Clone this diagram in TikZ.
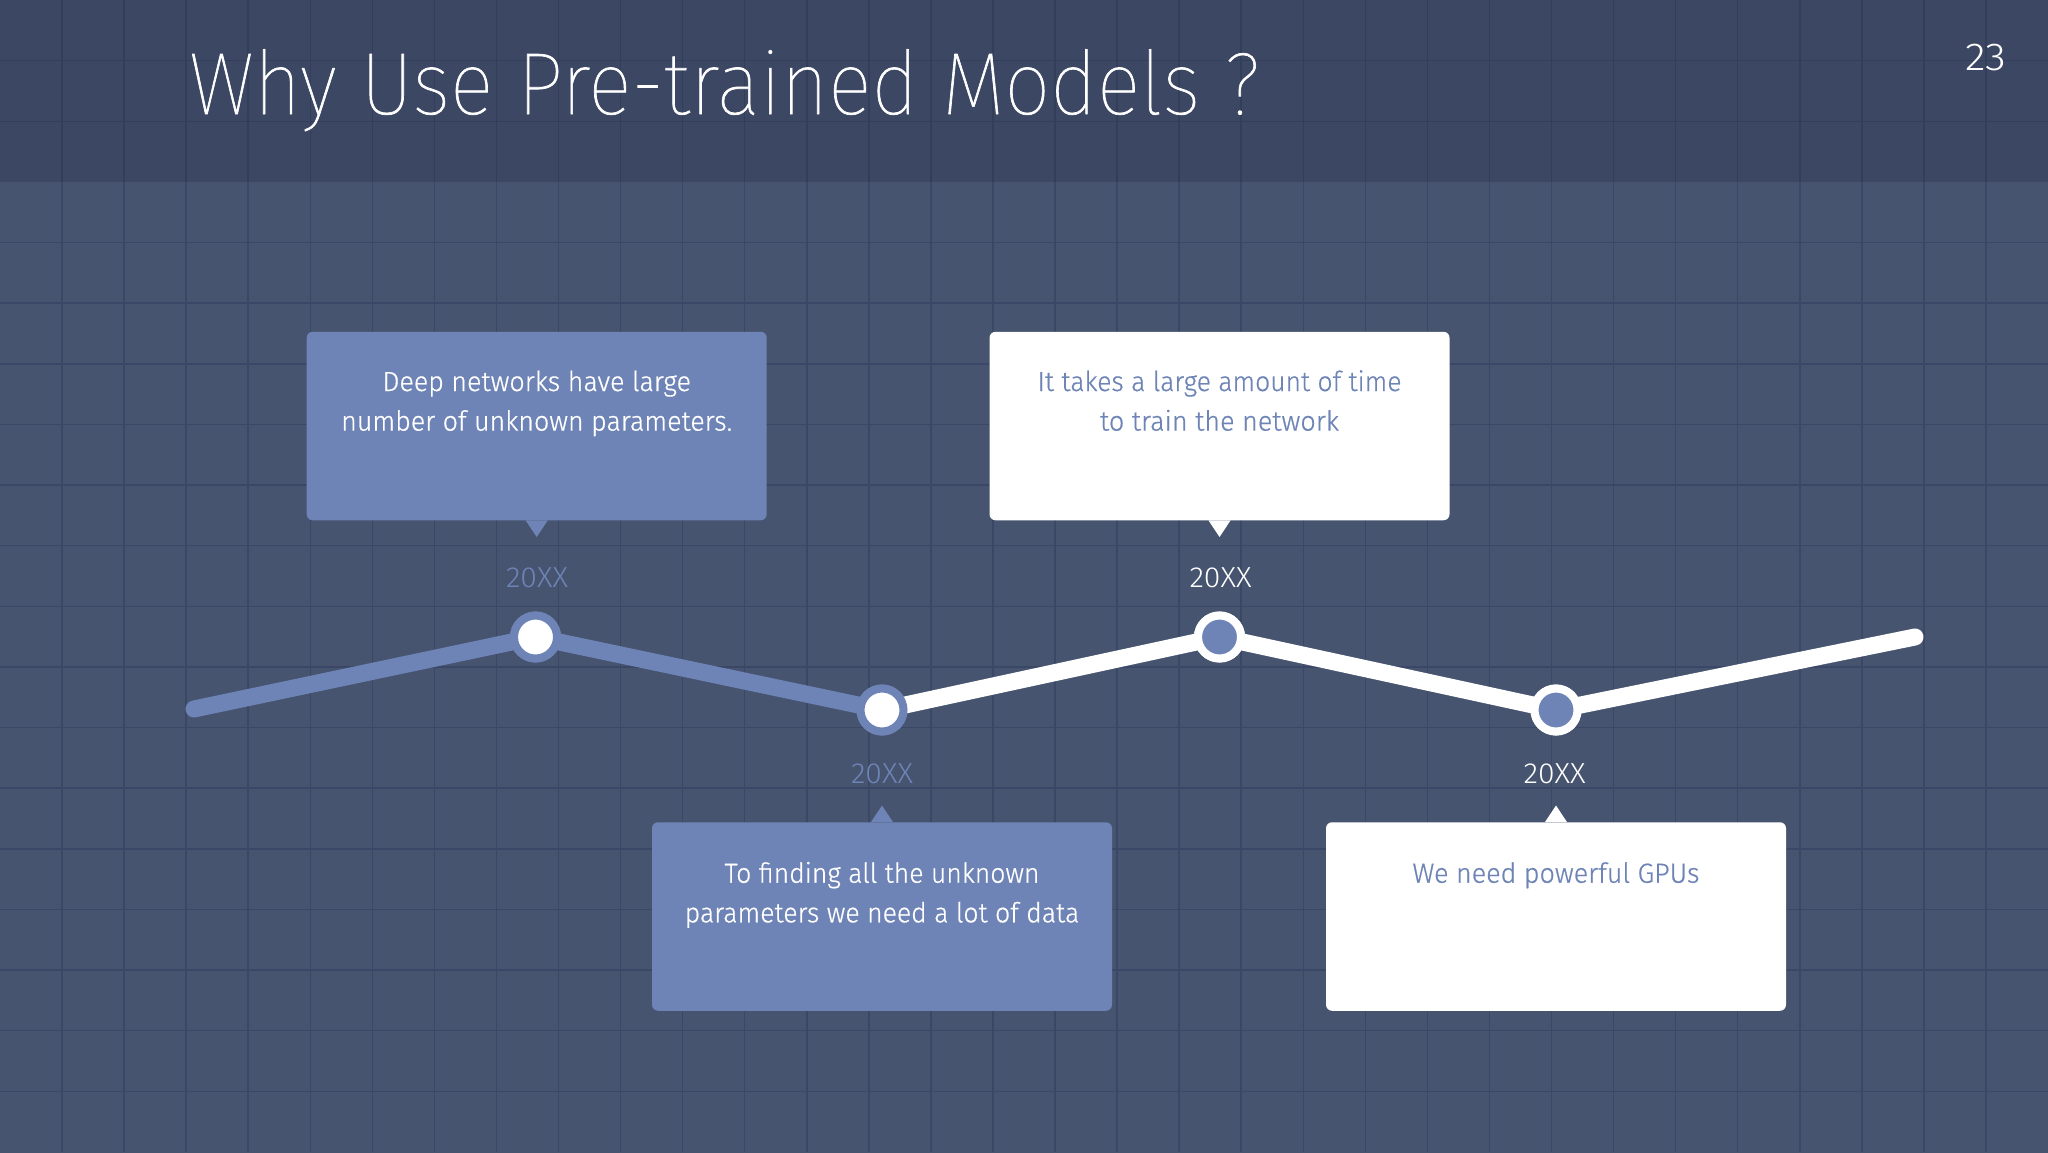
\documentclass[tikz,border=0pt]{standalone}
\usepackage{graphicx}
\usepackage{fontspec}
\setmainfont{Fira Sans Light}[RawFeature={embolden=0.6}]
\newfontfamily\titlefont{Fira Sans Thin}[RawFeature={embolden=0.8}]
\newfontfamily\yearfont{Fira Sans Light}
\definecolor{headbg}{HTML}{3C4763}
\definecolor{bodybg}{HTML}{46546F}
\definecolor{gridbody}{HTML}{3A4767}
\definecolor{gridhead}{HTML}{323E5A}
\definecolor{boxblue}{HTML}{6E84B6}
\newcommand{\fitw}[2]{\resizebox{#1pt}{\height}{#2}}
\tikzset{
  box/.style={rectangle,rounded corners=6pt,minimum width=460pt,minimum height=188.5pt,inner sep=0pt,draw=none},
  bluebox/.style={box,fill=boxblue},
  whitebox/.style={box,fill=white},
  label/.style={inner sep=0pt,align=center,anchor=base,font=\fontsize{27.6}{39.6}\selectfont},
  year/.style={inner sep=0pt,anchor=base,font=\yearfont\fontsize{29}{34}\selectfont},
  dotblue/.style={circle,inner sep=0pt,minimum size=43pt,line width=8pt,draw=boxblue,fill=white},
  dotwhite/.style={circle,inner sep=0pt,minimum size=43pt,line width=8pt,draw=white,fill=boxblue},
  trendblue/.style={draw=boxblue,line width=17pt,line cap=round,line join=round},
  trendwhite/.style={draw=white,line width=17pt,line cap=round,line join=round},
}
\begin{document}
\begin{tikzpicture}[x=1pt,y=-1pt]
\useasboundingbox (0,0) rectangle (2048,1152);
\begin{scope}
\clip (0,0) rectangle (2048,1152);
\fill[bodybg] (-5,-5) rectangle (2053,1157);
\fill[headbg] (-5,-5) rectangle (2053,182);
\foreach \i in {1,...,32} {
  \draw[gridhead,line width=1.5pt] ({62.06*\i},0) -- ({62.06*\i},182);
  \draw[gridbody,line width=1.5pt] ({62.06*\i},182) -- ({62.06*\i},1152);
}
\foreach \j in {1,2} \draw[gridhead,line width=1.5pt] (0,{60.63*\j}) -- (2048,{60.63*\j});
\foreach \j in {4,...,18} \draw[gridbody,line width=1.5pt] (0,{60.63*\j}) -- (2048,{60.63*\j});
\end{scope}

\node[anchor=base west,inner sep=0pt,text=white,font=\titlefont\fontsize{88}{100}\selectfont] (title) at (189,114) {\fitw{1071}{Why Use Pre-trained Models ?}};
\node[anchor=base west,inner sep=0pt,text=white,font=\yearfont\fontsize{39}{44}\selectfont] (page) at (1965,70) {\fitw{41}{23}};

\coordinate (start) at (194,709);
\coordinate (end) at (1915,637);
\node[dotblue] (c1) at (535.5,637) {};
\node[dotblue] (c2) at (882,710) {};
\node[dotwhite] (c3) at (1219.5,637) {};
\node[dotwhite] (c4) at (1556,710) {};
\draw[trendwhite] (c2.center) -- (c3.center) -- (c4.center) -- (end);
\draw[trendblue] (start) -- (c1.center) -- (c2.center);
\node[dotblue] at (c1) {};
\node[dotblue] at (c2) {};
\node[dotwhite] at (c3) {};
\node[dotwhite] at (c4) {};

\node[bluebox] (b1) at (536.7,426) {};
\node[whitebox] (b3) at (1219.5,426) {};
\node[bluebox] (b2) at (882,916.5) {};
\node[whitebox] (b4) at (1556,916.5) {};
\fill[boxblue] ([xshift=-11pt]b1.south) -- (536.7,537) -- ([xshift=11pt]b1.south) -- cycle;
\fill[white] ([xshift=-11pt]b3.south) -- (1219.5,537) -- ([xshift=11pt]b3.south) -- cycle;
\fill[boxblue] ([xshift=-11pt]b2.north) -- (882,805.5) -- ([xshift=11pt]b2.north) -- cycle;
\fill[white] ([xshift=-11pt]b4.north) -- (1556,805.5) -- ([xshift=11pt]b4.north) -- cycle;

\node[label,text=white] (t1) at (536.7,430.6) {\fitw{308.5}{Deep networks have large}\\\fitw{391}{number of unknown parameters.}};
\node[label,text=boxblue] (t3) at (1219.5,430.6) {\fitw{364}{It takes a large amount of time}\\\fitw{239}{to train the network}};
\node[label,text=white] (t2) at (882,922.3) {\fitw{315}{To finding all the unknown}\\\fitw{394.5}{parameters we need a lot of data}};
\node[label,text=boxblue] (t4) at (1556,882.7) {\fitw{287}{We need powerful GPUs}};

\node[year,text=boxblue] (y1) at (537,587) {\fitw{62}{20XX}};
\node[year,text=white] (y3) at (1220.5,587) {\fitw{62}{20XX}};
\node[year,text=boxblue] (y2) at (882,783) {\fitw{62}{20XX}};
\node[year,text=white] (y4) at (1554.6,783) {\fitw{62}{20XX}};
\end{tikzpicture}
\end{document}
